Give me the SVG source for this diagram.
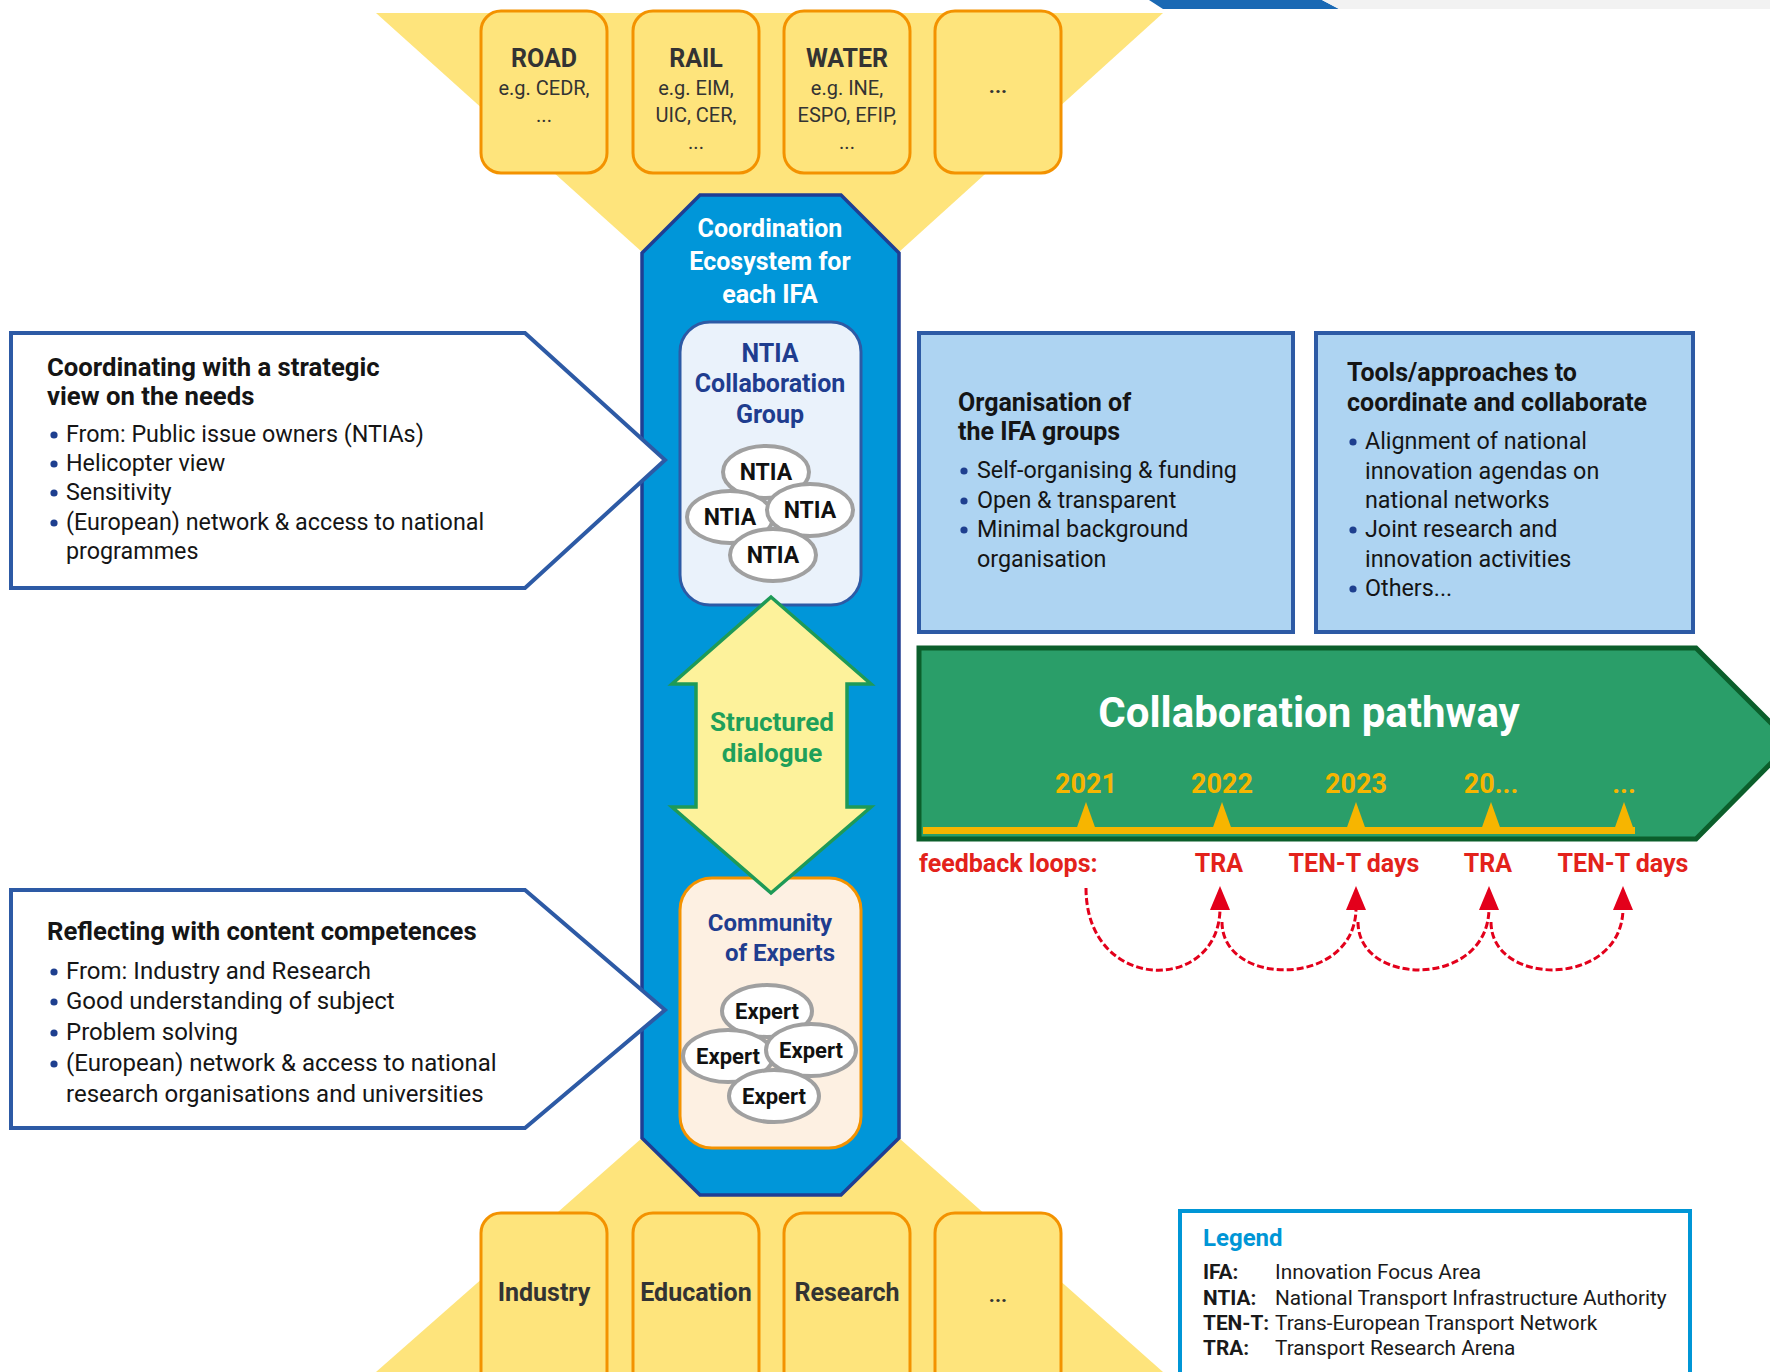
<svg xmlns="http://www.w3.org/2000/svg" width="1770" height="1372" viewBox="0 0 1770 1372">
<style>
text{font-family:Roboto,"Liberation Sans",sans-serif;}
.funnel{fill:#fee47c;}
.sbox{fill:#fee47c;stroke:#f39200;stroke-width:3;}
.st{font-size:25px;font-weight:700;fill:#333;text-anchor:middle;}
.ss{font-size:20px;fill:#333;text-anchor:middle;}
.dots{font-size:21px;font-weight:700;fill:#333;text-anchor:middle;}
.pent{fill:#fff;stroke:#2d5aa5;stroke-width:4;}
.h{font-size:25.7px;font-weight:700;fill:#151515;}
.hr{font-size:25px;font-weight:700;fill:#151515;}
.b{font-size:23.3px;fill:#151515;}
.b2{font-size:24px;fill:#151515;}
.dot{fill:#1e3f8f;}
.blu{fill:#aed4f2;stroke:#2d5aa5;stroke-width:4;}
.ell{fill:#fff;stroke:#a0a0a0;stroke-width:4;}
.et{font-size:23px;font-weight:700;fill:#111;text-anchor:middle;}
.ex{font-size:22px;font-weight:700;fill:#111;text-anchor:middle;}
.nt{font-size:25px;font-weight:700;fill:#1f3d8f;text-anchor:middle;}
.cm{font-size:24px;font-weight:700;fill:#1f3d8f;text-anchor:middle;}
.yr{font-size:27px;font-weight:700;fill:#f7b500;text-anchor:middle;}
.fb{font-size:25px;font-weight:700;fill:#e3221b;text-anchor:middle;}
.fbs{font-size:25px;font-weight:700;fill:#e3221b;}
.loop{fill:none;stroke:#e3001b;stroke-width:3;stroke-dasharray:7 3;}
.lg{font-size:20.8px;fill:#1a1a1a;}
.lgb{font-size:20.8px;font-weight:700;fill:#1a1a1a;}
</style>
<defs>
<marker id="ah" markerUnits="userSpaceOnUse" viewBox="0 0 24 20" markerWidth="24" markerHeight="20" refX="2" refY="10" orient="auto">
<path d="M0,0 L24,10 L0,20 Z" fill="#e3001b"/>
</marker>
</defs>

<g id="topbar">
<polygon points="1149,0 1322,0 1339,9 1163,9" fill="#1a69b4"/>
<polygon points="1322,0 1770,0 1770,9 1339,9" fill="#f2f2f2"/>
</g>

<g id="funnels">
<polygon class="funnel" points="376,13 1163,13 899,252 642,252"/>
<polygon class="funnel" points="642,1138 899,1138 1163,1372 376,1372"/>
</g>

<g id="top-road">
<rect class="sbox" x="481" y="11" width="126" height="162" rx="20"/>
<text class="st" x="544" y="67">ROAD</text>
<text class="ss" x="544" y="95">e.g. CEDR,</text>
<text class="ss" x="544" y="122">...</text>
</g>
<g id="top-rail">
<rect class="sbox" x="633" y="11" width="126" height="162" rx="20"/>
<text class="st" x="696" y="67">RAIL</text>
<text class="ss" x="696" y="95">e.g. EIM,</text>
<text class="ss" x="696" y="122">UIC, CER,</text>
<text class="ss" x="696" y="149">...</text>
</g>
<g id="top-water">
<rect class="sbox" x="784" y="11" width="126" height="162" rx="20"/>
<text class="st" x="847" y="67">WATER</text>
<text class="ss" x="847" y="95">e.g. INE,</text>
<text class="ss" x="847" y="122">ESPO, EFIP,</text>
<text class="ss" x="847" y="149">...</text>
</g>
<g id="top-more">
<rect class="sbox" x="935" y="11" width="126" height="162" rx="20"/>
<text class="dots" x="998" y="93">...</text>
</g>

<g id="bot-industry">
<rect class="sbox" x="481" y="1213" width="126" height="190" rx="20"/>
<text class="st" x="544" y="1301">Industry</text>
</g>
<g id="bot-education">
<rect class="sbox" x="633" y="1213" width="126" height="190" rx="20"/>
<text class="st" x="696" y="1301">Education</text>
</g>
<g id="bot-research">
<rect class="sbox" x="784" y="1213" width="126" height="190" rx="20"/>
<text class="st" x="847" y="1301">Research</text>
</g>
<g id="bot-more">
<rect class="sbox" x="935" y="1213" width="126" height="190" rx="20"/>
<text class="dots" x="998" y="1302">...</text>
</g>

<g id="ecosystem">
<polygon points="700,195 841,195 899,253 899,1138 841,1195 700,1195 642,1138 642,253" fill="#0096d9" stroke="#1f3e93" stroke-width="3.5"/>
<text x="770" y="237" font-size="25" font-weight="700" fill="#fff" text-anchor="middle">Coordination</text>
<text x="770" y="270" font-size="25" font-weight="700" fill="#fff" text-anchor="middle">Ecosystem for</text>
<text x="770" y="303" font-size="25" font-weight="700" fill="#fff" text-anchor="middle">each IFA</text>
</g>

<g id="strategic">
<polygon class="pent" points="11,333 525,333 665,460 525,588 11,588"/>
<text class="h" x="47" y="376">Coordinating with a strategic</text>
<text class="h" x="47" y="405">view on the needs</text>
<circle class="dot" cx="54" cy="435" r="3.6"/>
<text class="b" x="66" y="442">From: Public issue owners (NTIAs)</text>
<circle class="dot" cx="54" cy="464" r="3.6"/>
<text class="b" x="66" y="471">Helicopter view</text>
<circle class="dot" cx="54" cy="493" r="3.6"/>
<text class="b" x="66" y="500">Sensitivity</text>
<circle class="dot" cx="54" cy="523" r="3.6"/>
<text class="b" x="66" y="530">(European) network &amp; access to national</text>
<text class="b" x="66" y="559">programmes</text>
</g>

<g id="competences">
<polygon class="pent" points="11,890 525,890 665,1010 525,1128 11,1128"/>
<text class="h" x="47" y="940">Reflecting with content competences</text>
<circle class="dot" cx="54" cy="972" r="3.6"/>
<text class="b2" x="66" y="979">From: Industry and Research</text>
<circle class="dot" cx="54" cy="1002" r="3.6"/>
<text class="b2" x="66" y="1009">Good understanding of subject</text>
<circle class="dot" cx="54" cy="1033" r="3.6"/>
<text class="b2" x="66" y="1040">Problem solving</text>
<circle class="dot" cx="54" cy="1064" r="3.6"/>
<text class="b2" x="66" y="1071">(European) network &amp; access to national</text>
<text class="b2" x="66" y="1102">research organisations and universities</text>
</g>

<g id="ntia-group">
<rect x="680" y="322" width="181" height="283" rx="30" fill="#eaf2fb" stroke="#2d5aa5" stroke-width="3"/>
<text class="nt" x="770" y="362">NTIA</text>
<text class="nt" x="770" y="392">Collaboration</text>
<text class="nt" x="770" y="423">Group</text>
<ellipse class="ell" cx="766" cy="472" rx="43" ry="26"/>
<text class="et" x="766" y="480">NTIA</text>
<ellipse class="ell" cx="730" cy="517" rx="43" ry="26"/>
<text class="et" x="730" y="525">NTIA</text>
<ellipse class="ell" cx="810" cy="510" rx="43" ry="26"/>
<text class="et" x="810" y="518">NTIA</text>
<ellipse class="ell" cx="773" cy="555" rx="43" ry="26"/>
<text class="et" x="773" y="563">NTIA</text>
</g>

<g id="experts">
<rect x="680" y="878" width="181" height="270" rx="32" fill="#fdf0e2" stroke="#f39200" stroke-width="3"/>
<text class="cm" x="770" y="931">Community</text>
<text class="cm" x="780" y="961">of Experts</text>
<ellipse class="ell" cx="767" cy="1011" rx="45" ry="26"/>
<text class="ex" x="767" y="1019">Expert</text>
<ellipse class="ell" cx="728" cy="1056" rx="45" ry="26"/>
<text class="ex" x="728" y="1064">Expert</text>
<ellipse class="ell" cx="811" cy="1050" rx="45" ry="26"/>
<text class="ex" x="811" y="1058">Expert</text>
<ellipse class="ell" cx="774" cy="1096" rx="45" ry="26"/>
<text class="ex" x="774" y="1104">Expert</text>
</g>

<g id="dialogue">
<polygon points="771,597 871,684 847,684 847,807 871,807 771,893 672,807 696,807 696,684 672,684" fill="#fdf29b" stroke="#1e9a57" stroke-width="3.5" stroke-linejoin="miter"/>
<text x="772" y="731" font-size="26" font-weight="700" fill="#1fa05a" text-anchor="middle">Structured</text>
<text x="772" y="762" font-size="26" font-weight="700" fill="#1fa05a" text-anchor="middle">dialogue</text>
</g>

<g id="organisation">
<rect class="blu" x="919" y="333" width="374" height="299"/>
<text class="hr" x="958" y="411">Organisation of</text>
<text class="hr" x="958" y="440">the IFA groups</text>
<circle class="dot" cx="964" cy="471" r="3.6"/>
<text class="b" x="977" y="478">Self-organising &amp; funding</text>
<circle class="dot" cx="964" cy="501" r="3.6"/>
<text class="b" x="977" y="508">Open &amp; transparent</text>
<circle class="dot" cx="964" cy="530" r="3.6"/>
<text class="b" x="977" y="537">Minimal background</text>
<text class="b" x="977" y="567">organisation</text>
</g>

<g id="tools">
<rect class="blu" x="1316" y="333" width="377" height="299"/>
<text class="hr" x="1347" y="381">Tools/approaches to</text>
<text class="hr" x="1347" y="411">coordinate and collaborate</text>
<circle class="dot" cx="1353" cy="442" r="3.6"/>
<text class="b" x="1365" y="449">Alignment of national</text>
<text class="b" x="1365" y="479">innovation agendas on</text>
<text class="b" x="1365" y="508">national networks</text>
<circle class="dot" cx="1353" cy="530" r="3.6"/>
<text class="b" x="1365" y="537">Joint research and</text>
<text class="b" x="1365" y="567">innovation activities</text>
<circle class="dot" cx="1353" cy="589" r="3.6"/>
<text class="b" x="1365" y="596">Others...</text>
</g>

<g id="pathway">
<polygon points="919,648 1696,648 1791,743 1696,839 919,839" fill="#2a9e69" stroke="#0b5e2b" stroke-width="5"/>
<text x="1309" y="727" font-size="42" font-weight="700" fill="#fff" text-anchor="middle">Collaboration pathway</text>
<rect x="923" y="827" width="712" height="7" fill="#f7b500"/>
<polygon points="1086,802 1076,830 1096,830" fill="#f7b500"/>
<polygon points="1222,802 1212,830 1232,830" fill="#f7b500"/>
<polygon points="1356,802 1346,830 1366,830" fill="#f7b500"/>
<polygon points="1491,802 1481,830 1501,830" fill="#f7b500"/>
<polygon points="1624,802 1614,830 1634,830" fill="#f7b500"/>
<text class="yr" x="1086" y="793">2021</text>
<text class="yr" x="1222" y="793">2022</text>
<text class="yr" x="1356" y="793">2023</text>
<text class="yr" x="1491" y="793">20...</text>
<text class="yr" x="1624" y="793">...</text>
</g>

<g id="feedback">
<text class="fbs" x="919" y="872">feedback loops:</text>
<text class="fb" x="1219" y="872">TRA</text>
<text class="fb" x="1354" y="872">TEN-T days</text>
<text class="fb" x="1488" y="872">TRA</text>
<text class="fb" x="1623" y="872">TEN-T days</text>
</g>

<g id="connectors">
<path class="loop" d="M1086,888 C1086,994 1220,994 1220,908" marker-end="url(#ah)"/>
<path class="loop" d="M1222,922 C1222,988 1356,988 1356,908" marker-end="url(#ah)"/>
<path class="loop" d="M1358,922 C1358,988 1489,988 1489,908" marker-end="url(#ah)"/>
<path class="loop" d="M1491,922 C1491,988 1623,988 1623,908" marker-end="url(#ah)"/>
</g>

<g id="legend">
<rect x="1180" y="1211" width="510" height="200" fill="#fff" stroke="#0096d6" stroke-width="4"/>
<text x="1203" y="1246" font-size="24" font-weight="700" fill="#0096d6">Legend</text>
<text class="lgb" x="1203" y="1279">IFA:</text>
<text class="lg" x="1275" y="1279">Innovation Focus Area</text>
<text class="lgb" x="1203" y="1305">NTIA:</text>
<text class="lg" x="1275" y="1305">National Transport Infrastructure Authority</text>
<text class="lgb" x="1203" y="1330">TEN-T:</text>
<text class="lg" x="1275" y="1330">Trans-European Transport Network</text>
<text class="lgb" x="1203" y="1355">TRA:</text>
<text class="lg" x="1275" y="1355">Transport Research Arena</text>
</g>
</svg>
